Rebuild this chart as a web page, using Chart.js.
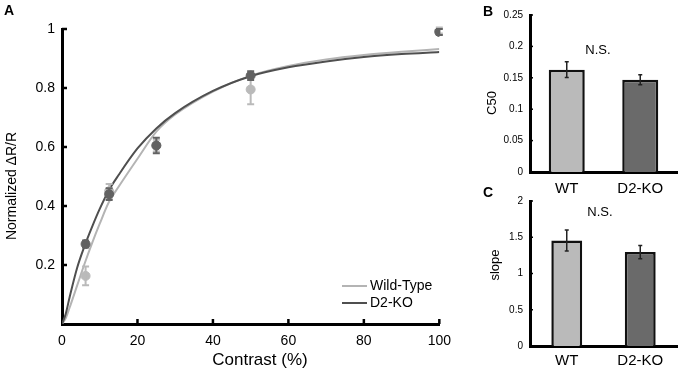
<!DOCTYPE html>
<html lang="en">
<head>
<meta charset="UTF-8">
<title>Contrast response, WT vs D2-KO</title>
<script src="https://cdn.jsdelivr.net/npm/chart.js"></script>
<style>
  body { margin: 0; background: #fff; width: 680px; height: 372px; position: relative; overflow: hidden; }
  .box { position: absolute; }
</style>
</head>
<body>

<div class="box" style="left:0;top:0"><canvas id="curveChart" width="460" height="372"></canvas></div>
<div class="box" style="left:480px;top:0"><canvas id="c50Chart" width="200" height="200"></canvas></div>
<div class="box" style="left:480px;top:180px"><canvas id="slopeChart" width="200" height="192"></canvas></div>

<script>
  // panel A - measured points (mean +/- sem)
  const contrast = [6.25, 12.5, 25, 50, 100];
  const wtMean = [0.163, 0.45, 0.605, 0.795, 0.995];
  const wtErr = [0.032, 0.025, 0.02, 0.05, 0.01];
  const koMean = [0.271, 0.44, 0.605, 0.842, 0.99];
  const koErr = [0.012, 0.02, 0.026, 0.015, 0.01];

  // panel A - fitted curves
  const fitContrast = [0, 1, 2, 4, 6, 8, 10, 12.5, 15, 20, 25, 30, 40, 50, 60, 70, 80, 90, 100];
  const wtFit = [0, 0.02, 0.055, 0.13, 0.205, 0.275, 0.34, 0.415, 0.465, 0.56, 0.652, 0.71, 0.788, 0.842, 0.875, 0.897, 0.912, 0.923, 0.932];
  const koFit = [0, 0.035, 0.09, 0.19, 0.265, 0.33, 0.39, 0.455, 0.505, 0.595, 0.663, 0.715, 0.79, 0.84, 0.87, 0.89, 0.905, 0.915, 0.922];

  const xTicksA = [0, 20, 40, 60, 80, 100];
  const yTicksA = [0, 0.2, 0.4, 0.6, 0.8, 1];

  // panels B and C
  const groups = ['WT', 'D2-KO'];
  const c50Mean = [0.163, 0.147];
  const c50Err = [0.0125, 0.008];
  const slopeMean = [1.455, 1.295];
  const slopeErr = [0.145, 0.09];
  const yTicksB = [0, 0.05, 0.1, 0.15, 0.2, 0.25];
  const yTicksC = [0, 0.5, 1, 1.5, 2];

  const FONT = '"Liberation Sans", Arial, sans-serif';
  const WT_DOT = '#bababa', KO_DOT = '#626262';
  const WT_LINE = '#b4b4b4', KO_LINE = '#4f4f4f';

  const pts = (xs, ys) => xs.map((x, i) => ({ x: x, y: ys[i] }));
  const setTicks = arr => s => { s.ticks = arr.map(v => ({ value: v })); };
  const noGrid = { display: false, drawTicks: false, tickLength: 0 };

  // vertical error bars, drawn right after their own dataset
  const errorBars = {
    id: 'errorBars',
    afterDatasetDraw(chart, args) {
      const ds = chart.data.datasets[args.index];
      if (!ds.errors) return;
      const ctx = chart.ctx, y = chart.scales.y;
      ctx.save();
      ctx.strokeStyle = ds.errColor;
      ctx.lineWidth = ds.errWidth;
      args.meta.data.forEach((el, i) => {
        const v = chart.scales.x.type === 'category' ? ds.data[i] : ds.data[i].y;
        const top = y.getPixelForValue(v + ds.errors[i]);
        const bot = y.getPixelForValue(v - ds.errors[i]);
        const c = ds.errCap / 2;
        ctx.beginPath();
        ctx.moveTo(el.x, top); ctx.lineTo(el.x, bot);
        ctx.moveTo(el.x - c, top); ctx.lineTo(el.x + c, top);
        ctx.moveTo(el.x - c, bot); ctx.lineTo(el.x + c, bot);
        ctx.stroke();
      });
      ctx.restore();
    }
  };

  // tick marks pointing into the plot
  const innerTicks = {
    id: 'innerTicks',
    afterDraw(chart, args, opts) {
      const { ctx, chartArea: a } = chart;
      ctx.save();
      ctx.strokeStyle = '#000';
      ctx.lineWidth = opts.width;
      const y = chart.scales.y;
      y.ticks.forEach(t => {
        if (t.value === y.min) return;
        const p = y.getPixelForValue(t.value);
        ctx.beginPath(); ctx.moveTo(a.left, p); ctx.lineTo(a.left + opts.length, p); ctx.stroke();
      });
      if (opts.xAxis) {
        const x = chart.scales.x;
        x.ticks.forEach(t => {
          if (t.value === x.min) return;
          const p = x.getPixelForValue(t.value);
          ctx.beginPath(); ctx.moveTo(p, a.bottom); ctx.lineTo(p, a.bottom - opts.length); ctx.stroke();
        });
      }
      ctx.restore();
    }
  };

  // free text: titles, panel letters, N.S.
  const texts = {
    id: 'texts',
    afterDraw(chart, args, opts) {
      const ctx = chart.ctx;
      (opts.items || []).forEach(t => {
        ctx.save();
        ctx.font = t.font;
        ctx.fillStyle = '#000';
        ctx.textAlign = t.align || 'center';
        ctx.textBaseline = 'middle';
        ctx.translate(t.x, t.y);
        if (t.rot) ctx.rotate(t.rot);
        ctx.fillText(t.text, 0, 0);
        ctx.restore();
      });
    }
  };

  // line legend inside panel A (wild-type first)
  const lineLegend = {
    id: 'lineLegend',
    afterDraw(chart, args, opts) {
      const ctx = chart.ctx;
      ctx.save();
      ctx.font = '14px ' + FONT;
      ctx.textBaseline = 'middle';
      chart.data.datasets.filter(d => d.inLegend).reverse().forEach((d, i) => {
        const y = opts.y + i * opts.gap;
        ctx.strokeStyle = d.borderColor;
        ctx.lineWidth = 2;
        ctx.beginPath(); ctx.moveTo(opts.x, y); ctx.lineTo(opts.x + opts.len, y); ctx.stroke();
        ctx.fillStyle = '#000';
        ctx.fillText(d.label, opts.x + opts.len + 3, y);
      });
      ctx.restore();
    }
  };

  new Chart(document.getElementById('curveChart'), {
    type: 'scatter',
    data: {
      datasets: [
        { label: 'D2-KO points', data: pts(contrast, koMean), errors: koErr, errColor: KO_DOT, errWidth: 2, errCap: 7,
          backgroundColor: KO_DOT, borderColor: KO_DOT, pointRadius: 4.5, order: 0 },
        { label: 'Wild-Type points', data: pts(contrast, wtMean), errors: wtErr, errColor: WT_DOT, errWidth: 2, errCap: 7,
          backgroundColor: WT_DOT, borderColor: WT_DOT, pointRadius: 4.5, order: 1 },
        { label: 'D2-KO', data: pts(fitContrast, koFit), showLine: true, pointRadius: 0, borderColor: KO_LINE,
          borderWidth: 2, cubicInterpolationMode: 'monotone', order: 2, inLegend: true },
        { label: 'Wild-Type', data: pts(fitContrast, wtFit), showLine: true, pointRadius: 0, borderColor: WT_LINE,
          borderWidth: 2, cubicInterpolationMode: 'monotone', order: 3, inLegend: true }
      ]
    },
    options: {
      responsive: false,
      animation: false,
      layout: { padding: { top: 29, right: 19, left: 0, bottom: 0 } },
      scales: {
        x: {
          type: 'linear', min: 0, max: 100,
          afterFit: s => { s.height = 48; },
          afterBuildTicks: setTicks(xTicksA),
          grid: noGrid,
          border: { display: true, color: '#000', width: 3 },
          ticks: { color: '#000', font: { size: 14, family: FONT }, padding: 9 }
        },
        y: {
          min: 0, max: 1,
          afterFit: s => { s.width = 62; },
          afterBuildTicks: setTicks(yTicksA),
          grid: noGrid,
          border: { display: true, color: '#000', width: 3 },
          ticks: { color: '#000', font: { size: 14, family: FONT }, padding: 7,
                   callback: v => v === 0 ? '' : String(+v.toFixed(2)) }
        }
      },
      plugins: {
        legend: { display: false },
        tooltip: { enabled: false },
        innerTicks: { width: 2.5, length: 5, xAxis: true },
        lineLegend: { x: 342, y: 286, gap: 17, len: 25 },
        texts: { items: [
          { text: 'A', x: 9, y: 11, font: 'bold 14px ' + FONT },
          { text: 'Contrast (%)', x: 260, y: 360, font: '17px ' + FONT },
          { text: 'Normalized \u0394R/R', x: 12, y: 186, font: '14px ' + FONT, rot: -Math.PI / 2 }
        ] }
      }
    },
    plugins: [errorBars, innerTicks, lineLegend, texts]
  });

  function barChart(id, mean, err, yTicks, yMax, opts) {
    return new Chart(document.getElementById(id), {
      type: 'bar',
      data: {
        labels: groups,
        datasets: [{
          data: mean, errors: err, errColor: '#222', errWidth: 1.5, errCap: 4,
          backgroundColor: [WT_DOT, '#6a6a6a'], borderColor: '#111', borderWidth: 2.5,
          barPercentage: opts.barPct, categoryPercentage: 1
        }]
      },
      options: {
        responsive: false,
        animation: false,
        layout: { padding: { top: opts.top, right: 3, left: 0, bottom: 0 } },
        scales: {
          x: {
            afterFit: s => { s.height = opts.xHeight; },
            grid: noGrid,
            border: { display: true, color: '#000', width: 3 },
            ticks: { color: '#000', font: { size: 15, family: FONT }, padding: opts.xPad }
          },
          y: {
            min: 0, max: yMax,
            afterFit: s => { s.width = 50; },
            afterBuildTicks: setTicks(yTicks),
            grid: noGrid,
            border: { display: true, color: '#000', width: 3 },
            ticks: { color: '#000', font: { size: 10, family: FONT }, padding: 7,
                     callback: v => String(+v.toFixed(2)) }
          }
        },
        plugins: {
          legend: { display: false },
          tooltip: { enabled: false },
          innerTicks: { width: 1.5, length: 3 },
          texts: { items: opts.texts }
        }
      },
      plugins: [errorBars, innerTicks, texts]
    });
  }

  barChart('c50Chart', c50Mean, c50Err, yTicksB, 0.25, {
    top: 15, xHeight: 28, xPad: 8, barPct: 0.49,
    texts: [
      { text: 'B', x: 8, y: 12, font: 'bold 14px ' + FONT },
      { text: 'N.S.', x: 118, y: 50, font: '13px ' + FONT },
      { text: 'C50', x: 12, y: 103, font: '13px ' + FONT, rot: -Math.PI / 2 }
    ]
  });

  barChart('slopeChart', slopeMean, slopeErr, yTicksC, 2, {
    top: 21, xHeight: 26, xPad: 6, barPct: 0.42,
    texts: [
      { text: 'C', x: 8, y: 13, font: 'bold 14px ' + FONT },
      { text: 'N.S.', x: 120, y: 32, font: '13px ' + FONT },
      { text: 'slope', x: 15, y: 85, font: '13px ' + FONT, rot: -Math.PI / 2 }
    ]
  });
</script>

</body>
</html>
